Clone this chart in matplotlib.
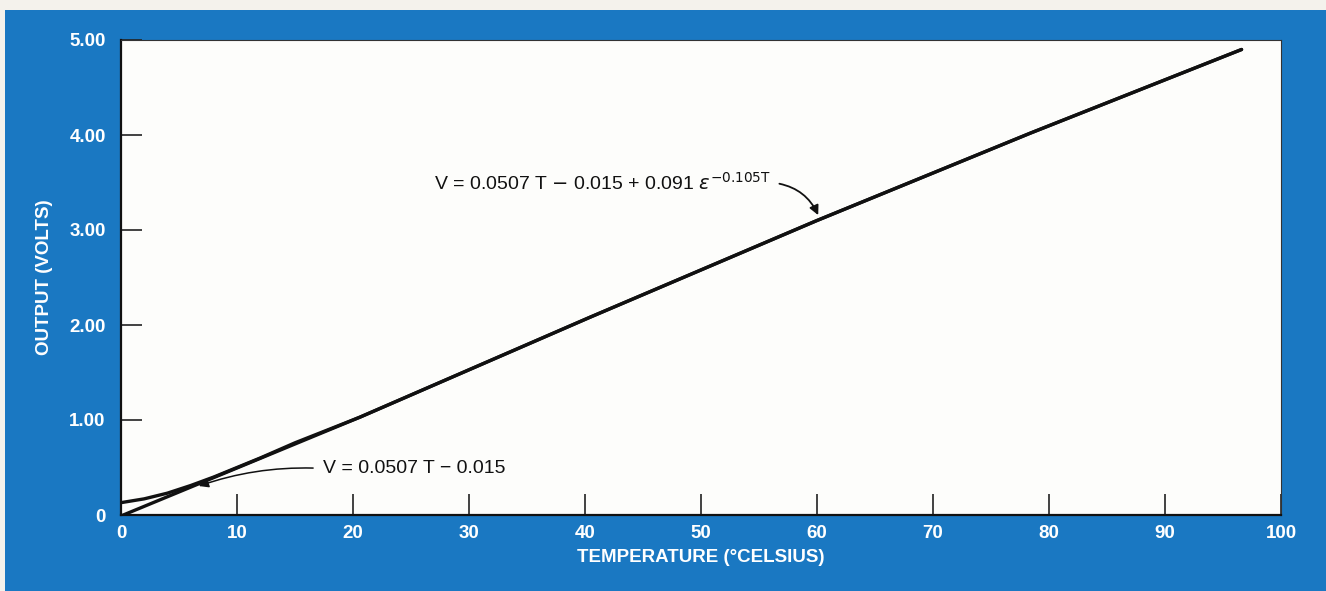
import matplotlib
matplotlib.use("Agg")
import matplotlib.pyplot as plt
from matplotlib.patches import Rectangle

# data
temp_linear = [0, 20.6, 40.4, 60, 78.4, 96.6]
volt_linear = [-0.01, 1.03, 2.08, 3.10, 4.02, 4.90]

temp_curve = [0, 2, 4, 6, 8, 10, 12, 15, 20.6, 40.4, 60, 78.4, 96.6]
volt_curve = [0.13, 0.17, 0.23, 0.31, 0.40, 0.50, 0.60, 0.76, 1.03, 2.08, 3.10, 4.02, 4.90]

x_ticks = [0, 10, 20, 30, 40, 50, 60, 70, 80, 90, 100]
y_ticks = [0, 1, 2, 3, 4, 5]
y_tick_labels = ["0", "1.00", "2.00", "3.00", "4.00", "5.00"]

blue = "#1a78c2"
plt.rcParams["font.family"] = ["Liberation Sans", "DejaVu Sans"]

fig = plt.figure(figsize=(13.26, 5.91), dpi=100)
fig.patch.set_facecolor("#f4f2ec")
# blue panel behind the plot
fig.add_artist(Rectangle((5 / 1326, 0), 1, (591 - 10) / 591,
                         transform=fig.transFigure, facecolor=blue,
                         edgecolor="none", zorder=-10))

ax = fig.add_axes([121 / 1326, (591 - 515) / 591, (1281 - 121) / 1326, (515 - 40) / 591])
ax.set_zorder(5)
ax.set_facecolor("#fdfdfb")
ax.set_xlim(0, 100)
ax.set_ylim(0, 5)

ax.plot(temp_linear, volt_linear, color="#111111", lw=2.4, solid_capstyle="round", zorder=3)
ax.plot(temp_curve, volt_curve, color="#111111", lw=2.4, solid_capstyle="round", zorder=3)

# ticks
ax.set_xticks(x_ticks)
ax.set_yticks(y_ticks)
ax.set_yticklabels(y_tick_labels)
ax.tick_params(direction="in", length=15, width=1.2, color="#222222",
               labelcolor="white", labelsize=13.5, pad=7)
ax.tick_params(axis="y", pad=11)
for lbl in ax.get_xticklabels() + ax.get_yticklabels():
    lbl.set_fontweight("bold")

for side in ["left", "bottom"]:
    ax.spines[side].set_linewidth(1.6)
    ax.spines[side].set_color("#111111")
for side in ["top", "right"]:
    ax.spines[side].set_linewidth(0.8)
    ax.spines[side].set_color("#333333")

ax.set_xlabel("TEMPERATURE (°CELSIUS)", color="white", fontsize=13.5,
              fontweight="bold", labelpad=5)
ax.set_ylabel("OUTPUT (VOLTS)", color="white", fontsize=13.5,
              fontweight="bold", labelpad=12)

# annotations with curved arrows
ax.annotate(r"V = 0.0507 T $-$ 0.015 + 0.091 $\epsilon^{-0.105\mathrm{T}}$",
            xy=(60.2, 3.13), xytext=(27.0, 3.50),
            fontsize=14, color="#111111", va="center", ha="left",
            arrowprops=dict(arrowstyle="-|>", color="#111111", lw=1.3,
                            connectionstyle="arc3,rad=-0.3",
                            shrinkA=4, shrinkB=2,
                            relpos=(1.0, 0.5)))
ax.annotate("V = 0.0507 T \u2212 0.015",
            xy=(6.6, 0.30), xytext=(17.4, 0.49),
            fontsize=14, color="#111111", va="center", ha="left",
            arrowprops=dict(arrowstyle="-|>", color="#111111", lw=1.1,
                            connectionstyle="arc3,rad=0.1",
                            shrinkA=5, shrinkB=1,
                            relpos=(0.0, 0.5)))

fig.savefig("out.png", dpi=100, facecolor=fig.get_facecolor())
